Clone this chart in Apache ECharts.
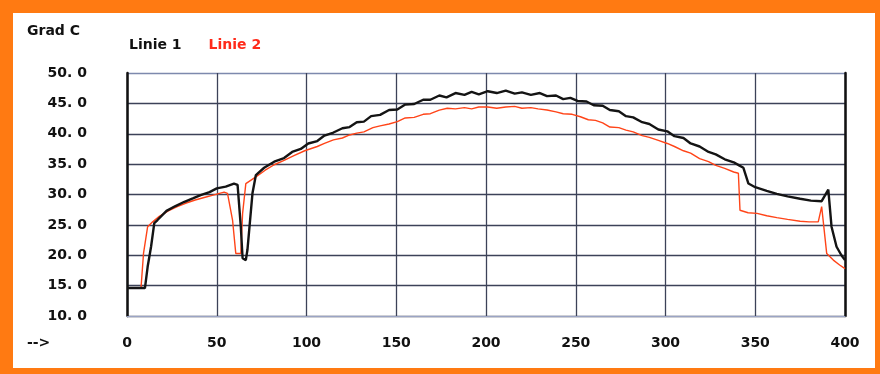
<!DOCTYPE html>
<html>
<head>
<meta charset="utf-8">
<script src="https://cdn.jsdelivr.net/npm/echarts@6/dist/echarts.min.js"></script>
<style>html,body{margin:0;padding:0;background:#fff}#c{width:880px;height:374px}</style>
</head>
<body>
<div id="c"></div>
<script>
var seriesNames = ['Linie 1', 'Linie 2'];
var yTicks = [10, 15, 20, 25, 30, 35, 40, 45, 50];
var xTicks = [0, 50, 100, 150, 200, 250, 300, 350, 400];

var line1X = [0,10,11.5,13.4,15.2,17,22,27,32,37,41,46,50,55,59.6,61.6,63.4,64.4,66.2,67.1,69.9,71.8,76.4,82,87.5,92,96.8,101,106,110,115,120,124,128,132,136,141,146,150.6,155,160,165,169,174,178,183,188,192,196,201,206,211,216,220,225,230,234,239,243,247,251,256,260,265,269,274,278,282,287,291,296,301,305,310,314,319,324,328,333,338,341,343.4,346.2,350,356.4,362,368,375,381,387,390.7,392.5,395.3,398,400];
var line1Y = [14.6,14.6,18.1,21.4,25.3,25.8,27.3,28.1,28.8,29.4,29.9,30.4,31.0,31.3,31.8,31.6,24.7,19.5,19.2,20.9,30.2,33.2,34.4,35.4,36.0,37.0,37.5,38.4,38.8,39.7,40.2,40.9,41.1,41.9,42.0,42.9,43.1,43.9,44.0,44.8,44.9,45.6,45.6,46.3,46.0,46.7,46.4,46.9,46.5,47.0,46.7,47.1,46.6,46.8,46.4,46.7,46.2,46.3,45.7,45.9,45.4,45.3,44.7,44.6,43.9,43.7,42.9,42.7,41.9,41.6,40.7,40.4,39.6,39.3,38.4,37.9,37.0,36.6,35.8,35.3,34.8,34.4,31.8,31.2,30.6,30.1,29.7,29.3,29.0,28.9,30.8,24.7,21.4,20.0,19.2];

var line2X = [0,7.8,9.2,11.5,14.3,18,23,28,33,38,43,48,54.1,56,58.8,60.6,63.4,64.4,66.2,71.8,77,82,87.5,93,99,106,110,115,120,124,128,132,137,141,146,150.6,155,160,165,169,174,178.4,183,188,192,196,201,206,211,216,220,225,229,234,239,243,248,252.6,257,261,265,269,274,278,282,287,291,296,301,305,310,314,319,324,328,333,338,340.6,341.5,346,351,356.4,362,368,375,380,385.1,387,389.8,393.5,397,400];
var line2Y = [14.6,14.6,20.3,24.7,25.5,26.4,27.3,28.0,28.6,29.1,29.5,29.9,30.4,30.2,25.8,20.3,20.3,26.9,31.8,32.9,34.0,34.9,35.6,36.4,37.2,37.9,38.4,39.0,39.3,39.8,40.1,40.3,41.0,41.3,41.6,42.0,42.6,42.7,43.2,43.3,43.9,44.2,44.1,44.3,44.1,44.4,44.4,44.2,44.4,44.5,44.2,44.3,44.1,43.9,43.6,43.3,43.2,42.8,42.3,42.2,41.8,41.1,41.0,40.6,40.3,39.7,39.4,38.9,38.4,37.9,37.2,36.8,35.9,35.4,34.8,34.3,33.7,33.5,27.4,27.0,26.9,26.5,26.2,25.9,25.6,25.5,25.5,28.0,20.3,19.2,18.4,17.8];

function pairs(xs, ys){ return xs.map(function(x,i){ return [x, ys[i]]; }); }

var FONT = 'DejaVu Sans';
var GRIDC = '#3c4258';
var chart = echarts.init(document.getElementById('c'), null, {renderer:'canvas'});
chart.setOption({
  backgroundColor: '#ffffff',
  animation: false,
  grid: {left: 127, right: 35, top: 73, bottom: 58},
  legend: {
    left: 119, top: 33, icon: 'none', itemWidth: 0, itemHeight: 0, itemGap: 22,
    textStyle: {fontFamily: FONT, fontWeight: 'bold', fontSize: 14},
    data: [
      {name: seriesNames[0], textStyle: {color: '#111111'}},
      {name: seriesNames[1], textStyle: {color: '#ff2a1a'}}
    ]
  },
  xAxis: {
    type: 'value', min: xTicks[0], max: xTicks[xTicks.length-1], interval: 50,
    axisLine: {show: true, lineStyle: {color: '#9aa4c4', width: 1.2}},
    axisTick: {show: false},
    axisLabel: {margin: 20, color: '#111', fontFamily: FONT, fontWeight: 'bold', fontSize: 14},
    splitLine: {show: true, lineStyle: {color: GRIDC, width: 1.3}}
  },
  yAxis: [{
    type: 'value', min: yTicks[0], max: yTicks[yTicks.length-1], interval: 5,
    axisLine: {show: true, lineStyle: {color: '#111111', width: 2.5}},
    axisTick: {show: false},
    axisLabel: {margin: 40, color: '#111', fontFamily: FONT, fontWeight: 'bold', fontSize: 14,
      formatter: function(v){ return v.toFixed(1).replace('.', '. '); }},
    splitLine: {show: true, lineStyle: {color: [GRIDC, GRIDC, GRIDC, GRIDC, GRIDC, GRIDC, GRIDC, GRIDC, '#7d89ad'], width: 1.3}}
  }, {
    type: 'value', position: 'right', min: yTicks[0], max: yTicks[yTicks.length-1], interval: 5,
    axisLine: {show: true, lineStyle: {color: '#111111', width: 2.5}},
    axisTick: {show: false}, axisLabel: {show: false}, splitLine: {show: false}
  }],
  graphic: [
    {type: 'rect', left: 0, top: 0, shape: {width: 880, height: 13}, style: {fill: '#ff7a12'}, z: 100},
    {type: 'rect', left: 0, top: 0, shape: {width: 13, height: 374}, style: {fill: '#ff7a12'}, z: 100},
    {type: 'rect', left: 875, top: 0, shape: {width: 5, height: 374}, style: {fill: '#ff7a12'}, z: 100},
    {type: 'rect', left: 0, top: 368, shape: {width: 880, height: 6}, style: {fill: '#ff7a12'}, z: 100},
    {type: 'text', left: 27, top: 24, style: {text: 'Grad C', fill: '#111', font: 'bold 14px "DejaVu Sans"'}},
    {type: 'text', left: 27, top: 336, style: {text: '-->', fill: '#111', font: 'bold 14px "DejaVu Sans"'}}
  ],
  series: [
    {name: seriesNames[0], type: 'line', data: pairs(line1X, line1Y), showSymbol: false, z: 3,
      lineStyle: {color: '#141414', width: 2.4}, itemStyle: {color: '#141414'}},
    {name: seriesNames[1], type: 'line', data: pairs(line2X, line2Y), showSymbol: false, z: 2,
      lineStyle: {color: '#ff4418', width: 1.4}, itemStyle: {color: '#ff4418'}}
  ]
});
</script>
</body>
</html>
